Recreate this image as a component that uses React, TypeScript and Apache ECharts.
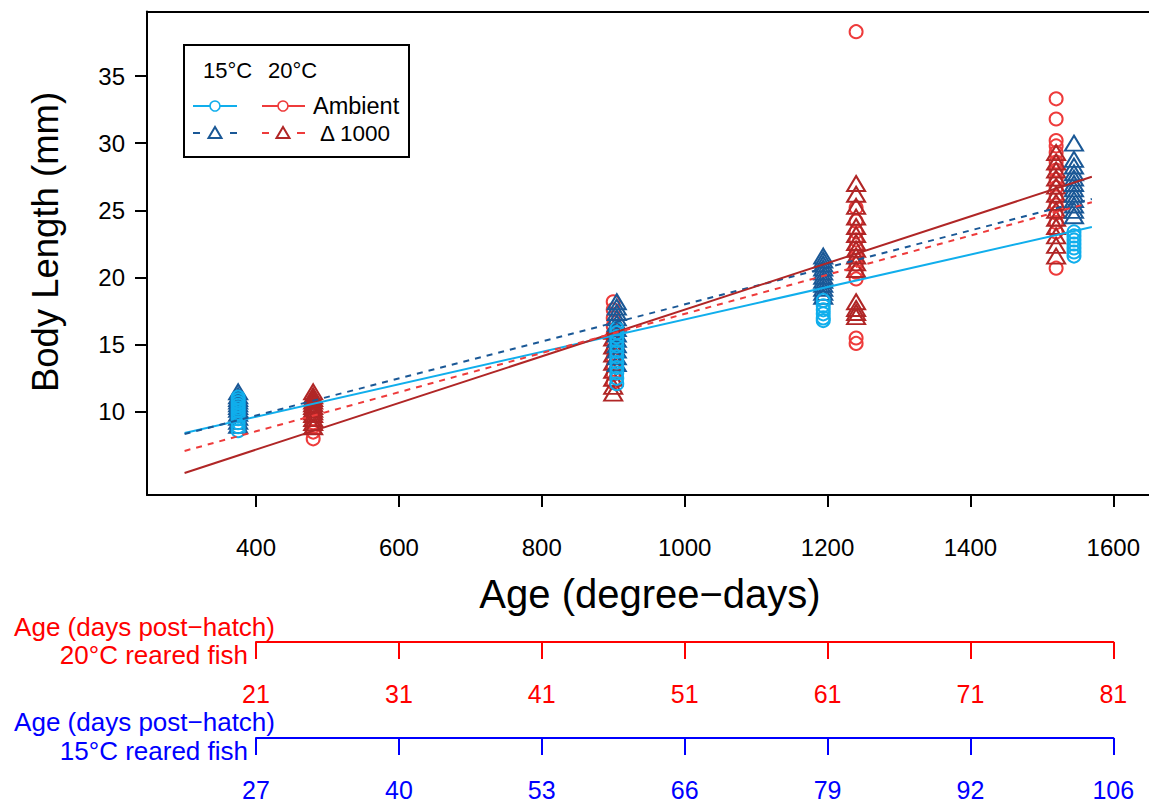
import React, { useEffect, useRef } from "react";
import * as echarts from "echarts";

// ---- data ----
const x15 = [375, 905, 1194, 1545];
const x20 = [480, 900, 1240, 1520];

const amb15 = [
  [8.6, 8.9, 9.2, 9.5, 9.7, 9.9, 10.1, 10.3, 10.5, 10.7, 10.9, 11.1],
  [12.1, 12.5, 12.9, 13.3, 13.7, 14.1, 14.5, 14.9, 15.3, 15.6, 15.9, 16.2],
  [16.8, 17.0, 17.3, 17.6, 17.9, 18.3],
  [21.6, 21.9, 22.2, 22.5, 22.8, 23.1, 23.4],
];
const d15 = [
  [9.0, 9.3, 9.6, 9.9, 10.2, 10.4, 10.6, 10.8, 11.0, 11.2, 11.5],
  [13.6, 14.1, 14.6, 15.0, 15.4, 15.8, 16.2, 16.6, 17.0, 17.4, 17.8, 18.2],
  [18.6, 18.9, 19.2, 19.5, 19.8, 20.1, 20.4, 20.7, 21.0, 21.3, 21.6],
  [24.6, 25.0, 25.4, 25.8, 26.2, 26.6, 27.0, 27.4, 27.8, 28.3, 28.8, 30.0],
];
const amb20 = [
  [8.0, 8.5, 8.9, 9.2, 9.5, 9.8, 10.1, 10.4, 10.7],
  [12.2, 12.8, 13.4, 14.0, 14.6, 15.2, 15.8, 16.4, 17.0, 17.6, 18.2],
  [38.3, 15.1, 15.5, 19.9, 20.4, 21.0, 21.6, 22.2, 22.8, 23.4, 24.2, 25.2],
  [33.3, 31.8, 30.2, 29.8, 29.3, 28.6, 28.0, 27.3, 26.7, 26.0, 25.4, 24.8, 24.1, 23.4, 20.7],
];
const d20 = [
  [8.9, 9.2, 9.5, 9.8, 10.0, 10.2, 10.4, 10.6, 10.8, 11.0, 11.2, 11.5],
  [11.4, 11.9, 12.5, 13.1, 13.7, 14.3, 14.9, 15.5, 16.0],
  [17.1, 17.4, 17.7, 18.2, 20.6, 21.1, 21.6, 22.1, 22.6, 23.2, 23.8, 24.5, 25.3, 26.2, 27.0],
  [21.6, 22.4, 23.1, 23.8, 24.4, 25.0, 25.6, 26.2, 26.8, 27.4, 28.0, 28.6, 29.3],
];

// fitted lines (start / end)
const fitX = [300, 1570];
const fit15amb = [8.44, 23.76];
const fit15d = [8.36, 25.85];
const fit20amb = [5.46, 27.5];
const fit20d = [7.1, 25.6];

const tickX = [400, 600, 800, 1000, 1200, 1400, 1600];
const tickY = [10, 15, 20, 25, 30, 35];
const days20 = ["21", "31", "41", "51", "61", "71", "81"];
const days15 = ["27", "40", "53", "66", "79", "92", "106"];

// ---- styles ----
const FONT = "'Liberation Sans', Arial, Helvetica, sans-serif";
const C_LB = "#10AEEC";
const C_DB = "#1A5896";
const C_R = "#EE3B3B";
const C_DR = "#B02626";

function pts(xs: number[], ys: number[][]) {
  const out: number[][] = [];
  ys.forEach((g, i) => g.forEach((y) => out.push([xs[i], y])));
  return out;
}
function fit(ys: number[]) {
  return fitX.map((x, i) => [x, ys[i]]);
}

export default function App() {
  const ref = useRef<HTMLDivElement>(null);
  useEffect(() => {
    if (!ref.current) return;
    const chart = echarts.init(ref.current, null, { renderer: "svg" });

    const scatter = (data: number[][], symbol: string, size: any, color: string) => ({
      type: "scatter",
      xAxisIndex: 0,
      yAxisIndex: 0,
      data,
      symbol,
      symbolSize: size,
      itemStyle: { color: "rgba(0,0,0,0)", borderColor: color, borderWidth: 2, opacity: 1 },
      emphasis: { disabled: true },
    });
    const line = (data: number[][], color: string, dashed: boolean) => ({
      type: "line",
      xAxisIndex: 0,
      yAxisIndex: 0,
      data,
      showSymbol: false,
      symbol: "none",
      lineStyle: { color, width: 2, type: dashed ? [6, 6] : "solid" },
      emphasis: { disabled: true },
    });

    const legX = 184, legY = 45;
    const tri = (cx: number, cy: number, color: string) => ({
      type: "polygon",
      shape: { points: [[cx - 6.5, cy + 5], [cx + 6.5, cy + 5], [cx, cy - 6]] },
      style: { fill: "none", stroke: color, lineWidth: 2 },
    });
    const seg = (x1: number, x2: number, y: number, color: string) => ({
      type: "line",
      shape: { x1, y1: y, x2, y2: y },
      style: { stroke: color, lineWidth: 2 },
    });
    const circ = (cx: number, cy: number, color: string) => ({
      type: "circle",
      shape: { cx, cy, r: 5 },
      style: { fill: "#fff", stroke: color, lineWidth: 1.6 },
    });
    const txt = (text: string, x: number, y: number, size: number, color: string, align = "left", extra: any = {}) => ({
      type: "text",
      x,
      y,
      ...extra,
      style: {
        text,
        fontSize: size,
        fill: color,
        fontFamily: FONT,
        align,
        verticalAlign: "middle",
        lineHeight: size,
      },
    });

    const option: any = {
      animation: false,
      backgroundColor: "#fff",
      textStyle: { fontFamily: FONT },
      grid: [
        { left: 147, top: 11.5, right: 0, height: 483.5 },
        { left: 256, width: 857.3, top: 641, height: 1 },
        { left: 256, width: 857.3, top: 737, height: 1 },
      ],
      xAxis: [
        {
          gridIndex: 0,
          type: "value",
          min: 247.4,
          max: 1650,
          axisLine: { show: true, onZero: false, lineStyle: { color: "#000", width: 2 } },
          axisTick: { show: true, customValues: tickX, length: 12, lineStyle: { color: "#000", width: 2 } },
          axisLabel: {
            customValues: tickX,
            fontSize: 24,
            color: "#000",
            margin: 40,
            fontFamily: FONT,
            formatter: (v: number) => String(v),
          },
          splitLine: { show: false },
        },
        {
          gridIndex: 0,
          type: "value",
          position: "top",
          min: 247.4,
          max: 1650,
          axisLine: { show: true, onZero: false, lineStyle: { color: "#000", width: 2 } },
          axisTick: { show: false },
          axisLabel: { show: false },
          splitLine: { show: false },
        },
        {
          gridIndex: 1,
          type: "value",
          position: "bottom",
          min: 400,
          max: 1600,
          interval: 200,
          axisLine: { show: true, onZero: false, lineStyle: { color: "#FF0000", width: 2 } },
          axisTick: { show: true, length: 17, lineStyle: { color: "#FF0000", width: 2 } },
          axisLabel: {
            fontSize: 25,
            lineHeight: 20,
            color: "#FF0000",
            margin: 42,
            fontFamily: FONT,
            formatter: (v: number) => days20[Math.round((v - 400) / 200)],
          },
          splitLine: { show: false },
        },
        {
          gridIndex: 2,
          type: "value",
          position: "bottom",
          min: 400,
          max: 1600,
          interval: 200,
          axisLine: { show: true, onZero: false, lineStyle: { color: "#0000FF", width: 2 } },
          axisTick: { show: true, length: 17, lineStyle: { color: "#0000FF", width: 2 } },
          axisLabel: {
            fontSize: 25,
            lineHeight: 20,
            color: "#0000FF",
            margin: 42,
            fontFamily: FONT,
            formatter: (v: number) => days15[Math.round((v - 400) / 200)],
          },
          splitLine: { show: false },
        },
      ],
      yAxis: [
        {
          gridIndex: 0,
          type: "value",
          min: 3.82,
          max: 39.8,
          axisLine: { show: true, onZero: false, lineStyle: { color: "#000", width: 2 } },
          axisTick: { show: true, customValues: tickY, length: 12, lineStyle: { color: "#000", width: 2 } },
          axisLabel: { customValues: tickY, fontSize: 24, color: "#000", margin: 22, fontFamily: FONT },
          splitLine: { show: false },
        },
        { gridIndex: 1, type: "value", show: false, min: 0, max: 1 },
        { gridIndex: 2, type: "value", show: false, min: 0, max: 1 },
      ],
      series: [
        scatter(pts(x20, amb20), "circle", 13, C_R),
        scatter(pts(x20, d20), "triangle", [18, 15], C_DR),
        scatter(pts(x15, d15), "triangle", [18, 15], C_DB),
        scatter(pts(x15, amb15), "circle", 13, C_LB),
        line(fit(fit15amb), C_LB, false),
        line(fit(fit15d), C_DB, true),
        line(fit(fit20amb), C_DR, false),
        line(fit(fit20d), C_R, true),
      ],
      graphic: [
        // axis titles
        txt("Body Length (mm)", 45, 242, 36.5, "#000", "center", { rotation: Math.PI / 2 }),
        txt("Age (degree\u2212days)", 650, 594, 40, "#000", "center"),
        txt("Age (days post\u2212hatch)", 275, 627, 26, "#FF0000", "right"),
        txt("20\u00B0C reared fish", 248, 655, 26, "#FF0000", "right"),
        txt("Age (days post\u2212hatch)", 275, 721.5, 26, "#0000FF", "right"),
        txt("15\u00B0C reared fish", 248, 750.5, 26, "#0000FF", "right"),
        // legend
        {
          type: "rect",
          shape: { x: legX, y: legY, width: 225, height: 112 },
          style: { fill: "#fff", stroke: "#000", lineWidth: 2 },
        },
        txt("15\u00B0C", 203, 70, 22, "#000"),
        txt("20\u00B0C", 268, 70, 22, "#000"),
        seg(193, 237, 106, C_LB),
        circ(215, 106, C_LB),
        seg(262, 305, 106, C_R),
        circ(283, 106, C_R),
        txt("Ambient", 313, 106, 23.5, "#000"),
        seg(193, 200, 133, C_DB),
        seg(230, 237, 133, C_DB),
        tri(215, 133, C_DB),
        seg(262, 269, 133, C_R),
        seg(297, 305, 133, C_R),
        tri(283, 133, C_DR),
        txt("\u0394 1000", 320, 133, 22.5, "#000"),
      ],
    };
    chart.setOption(option);
    return () => chart.dispose();
  }, []);
  return (
    <div
      ref={ref}
      style={{ position: "absolute", left: 0, top: 0, width: 1149, height: 803, background: "#fff" }}
    />
  );
}
